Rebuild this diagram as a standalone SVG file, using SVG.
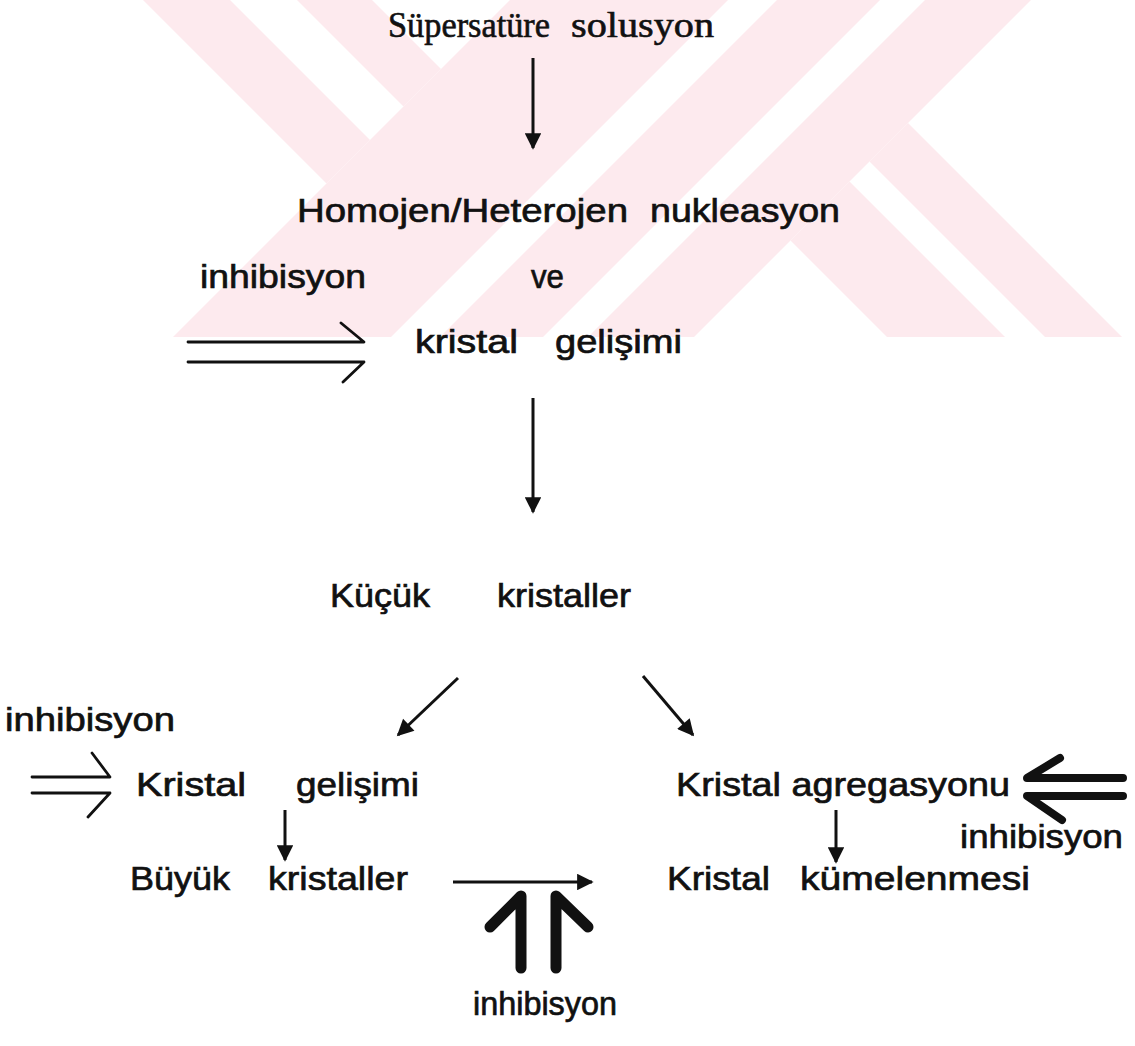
<svg xmlns="http://www.w3.org/2000/svg" width="1135" height="1046" viewBox="0 0 1135 1046">
<style>
.sans{font-family:"Liberation Sans",Arial,sans-serif;font-size:34px;fill:#111;stroke:#111;stroke-width:0.7;}
.serif{font-family:"Liberation Serif","Times New Roman",serif;font-size:35px;fill:#111;stroke:#111;stroke-width:0.6;}
.thin{stroke:#111;stroke-width:3;fill:none;marker-end:url(#ah);}
.open{stroke:#111;stroke-width:2.8;fill:none;stroke-linecap:round;stroke-linejoin:round;}
.thick{stroke:#111;stroke-width:11;fill:none;stroke-linecap:round;stroke-linejoin:round;}
.thick2{stroke:#111;stroke-width:8;fill:none;stroke-linecap:round;stroke-linejoin:round;}
.wm{fill:#fdeaee;}
</style>
<defs>
<marker id="ah" viewBox="0 0 10 10" refX="9" refY="5" markerWidth="7" markerHeight="5.5" orient="auto" markerUnits="strokeWidth">
<path d="M0,0 L10,5 L0,10 z" fill="#111"/>
</marker>
<clipPath id="wmclip"><rect x="0" y="0" width="1135" height="337"/></clipPath>
</defs>
<rect width="1135" height="1046" fill="#fff"/>
<g id="watermark" clip-path="url(#wmclip)">
<polygon class="wm" points="510,0 728,0 391,337 173,337"/>
<polygon class="wm" points="777,0 880,0 543,337 440,337"/>
<polygon class="wm" points="925,0 1031,0 694,337 588,337"/>
<polygon class="wm" points="143,0 230,0 370,140 326.5,183.5"/>
<polygon class="wm" points="297,0 372,0 441,69 403.5,106.5"/>
<polygon class="wm" points="790.5,240.5 849.5,181.5 1005,337 887,337"/>
<polygon class="wm" points="869.5,161.5 908,123 1122,337 1045,337"/>
</g>
<g id="connectors">
<line class="thin" x1="533" y1="58" x2="533" y2="148"/>
<line class="thin" x1="533" y1="398" x2="533" y2="512"/>
<line class="thin" x1="458" y1="678" x2="398" y2="735"/>
<line class="thin" x1="643" y1="676" x2="693" y2="735"/>
<line class="thin" x1="285" y1="810" x2="285" y2="860"/>
<line class="thin" x1="836" y1="810" x2="836" y2="862"/>
<line class="thin" x1="453" y1="882" x2="592" y2="882"/>
<path class="open" d="M188,342 H364 L341,323 M188,362 H364 L343,382"/>
<path class="open" d="M32,777 H110 L92,753 M32,793 H110 L88,817"/>
<path class="thick2" d="M1123,778 H1027 L1060,758 M1123,796 H1027 L1062,820"/>
<path class="thick" d="M521,968 V896 L490,927 M556,968 V896 L588,927"/>
</g>
<g id="node-supersature"><text class="serif" x="388" y="37" textLength="162" lengthAdjust="spacingAndGlyphs">Süpersatüre</text><text class="serif" x="571" y="37" textLength="143" lengthAdjust="spacingAndGlyphs">solusyon</text></g>
<g id="node-nukleasyon"><text class="sans" x="297" y="222" textLength="331" lengthAdjust="spacingAndGlyphs">Homojen/Heterojen</text><text class="sans" x="650" y="222" textLength="190" lengthAdjust="spacingAndGlyphs">nukleasyon</text></g>
<g id="node-inhibisyon1"><text class="sans" x="200" y="288" textLength="166" lengthAdjust="spacingAndGlyphs">inhibisyon</text></g>
<g id="node-ve"><text class="sans" x="531" y="288" textLength="33" lengthAdjust="spacingAndGlyphs">ve</text></g>
<g id="node-kristal-gelisimi1"><text class="sans" x="415" y="353" textLength="103" lengthAdjust="spacingAndGlyphs">kristal</text><text class="sans" x="555" y="353" textLength="127" lengthAdjust="spacingAndGlyphs">gelişimi</text></g>
<g id="node-kucuk"><text class="sans" x="330" y="607" textLength="100" lengthAdjust="spacingAndGlyphs">Küçük</text><text class="sans" x="497" y="607" textLength="134" lengthAdjust="spacingAndGlyphs">kristaller</text></g>
<g id="node-inhibisyon2"><text class="sans" x="5" y="731" textLength="170" lengthAdjust="spacingAndGlyphs">inhibisyon</text></g>
<g id="node-kristal-gelisimi2"><text class="sans" x="136" y="796" textLength="110" lengthAdjust="spacingAndGlyphs">Kristal</text><text class="sans" x="296" y="796" textLength="123" lengthAdjust="spacingAndGlyphs">gelişimi</text></g>
<g id="node-agregasyon"><text class="sans" x="676" y="796" textLength="334" lengthAdjust="spacingAndGlyphs">Kristal agregasyonu</text></g>
<g id="node-inhibisyon3"><text class="sans" x="960" y="848" textLength="163" lengthAdjust="spacingAndGlyphs">inhibisyon</text></g>
<g id="node-buyuk"><text class="sans" x="130" y="890" textLength="100" lengthAdjust="spacingAndGlyphs">Büyük</text><text class="sans" x="268" y="890" textLength="140" lengthAdjust="spacingAndGlyphs">kristaller</text></g>
<g id="node-kumelenme"><text class="sans" x="667" y="890" textLength="103" lengthAdjust="spacingAndGlyphs">Kristal</text><text class="sans" x="800" y="890" textLength="230" lengthAdjust="spacingAndGlyphs">kümelenmesi</text></g>
<g id="node-inhibisyon4"><text class="sans" x="473" y="1015" textLength="144" lengthAdjust="spacingAndGlyphs">inhibisyon</text></g>
</svg>
